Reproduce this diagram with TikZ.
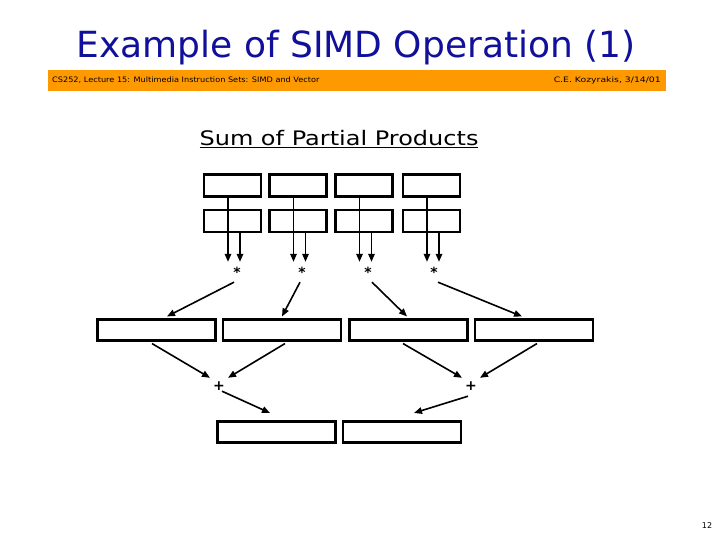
\documentclass[tikz,border=0pt]{standalone}
\usepackage{fontspec}
\setmainfont{DejaVu Sans}
\usetikzlibrary{arrows.meta,calc}
\definecolor{navy}{HTML}{10109A}
\definecolor{barorange}{HTML}{FF9900}
\begin{document}
\begin{tikzpicture}[x=1pt,y=-1pt,
  box/.style={draw=black,line width=2.6pt,rectangle,inner sep=0pt},
  sbox/.style={box,minimum width=57pt,minimum height=22pt},
  wbox/.style={box,minimum width=118pt,minimum height=21.5pt},
  op/.style={inner sep=0pt,font=\bfseries\fontsize{14}{14}\selectfont},
  arr/.style={line width=1.6pt,-{Triangle[length=8pt,width=6.5pt]}},
  ln/.style={line width=1.6pt}]
\useasboundingbox (0,0) rectangle (720,540);
% title and bar
\node[text=navy,font=\fontsize{36}{38}\selectfont] (title) at (356,48) {\scalebox{1.0}[1.0]{Example of SIMD Operation (1)}};
\node[fill=barorange,minimum width=618pt,minimum height=21pt,inner sep=0pt,anchor=north west] (bar) at (48,70) {};
\node[anchor=west,font=\fontsize{7.5}{7.5}\selectfont,inner sep=0pt] (lt) at (52,80.5) {\scalebox{1.09}[1]{CS252, Lecture 15: Multimedia Instruction Sets: SIMD and Vector}};
\node[anchor=east,font=\fontsize{7.5}{7.5}\selectfont,inner sep=0pt] (rt) at (661,80.5) {\scalebox{1.24}[1]{C.E. Kozyrakis, 3/14/01}};
\node[font=\fontsize{20}{21}\selectfont,inner sep=0pt] (sub) at (339,139) {\scalebox{1.2}[1.0]{\underline{Sum of Partial Products}}};
\node[font=\fontsize{8}{8}\selectfont,inner sep=0pt] (pg) at (707,526) {12};
% top rows
\foreach \i/\x in {1/232.5,2/298,3/364,4/431.5}{
  \node[sbox] (t\i) at (\x,185.5) {};
  \node[sbox] (s\i) at (\x,221) {};
}
\node[op,minimum size=20pt] (st1) at (237,272) {*};
\node[op,minimum size=20pt] (st2) at (302,272) {*};
\node[op,minimum size=20pt] (st3) at (368,272) {*};
\node[op,minimum size=20pt] (st4) at (434,272) {*};
\foreach \i in {1,2,3,4}{
  \draw[arr] let \p1=($(t\i.south)+(-4.5,0)$), \p2=(st\i.north) in (\p1) -- (\x1,\y2);
  \draw[arr] let \p1=($(s\i.south)+(7.5,0)$), \p2=(st\i.north) in (\p1) -- (\x1,\y2);
}
% middle row
\node[wbox] (m1) at (156.5,330) {};
\node[wbox] (m2) at (282,330) {};
\node[wbox] (m3) at (408.5,330) {};
\node[wbox] (m4) at (534,330) {};
\draw[arr] ($(st1.south)+(-3,0)$) -- ($(m1.north)+(10.5,-1.5)$);
\draw[arr] ($(st2.south)+(-2,0)$) -- ($(m2.north)+(0,-1.5)$);
\draw[arr] ($(st3.south)+(4,0)$) -- ($(m3.north)+(-1.5,-1.5)$);
\draw[arr] ($(st4.south)+(4,0)$) -- ($(m4.north)+(-12,-1.5)$);
% plus
\node[op,minimum size=16pt] (p1) at (219,386) {+};
\node[op,minimum size=16pt] (p2) at (471,386) {+};
\draw[arr] ($(m1.south)+(-4.5,1.5)$) -- ($(p1.north)+(-9,0)$);
\draw[arr] ($(m2.south)+(3,1.5)$) -- ($(p1.north)+(9,0)$);
\draw[arr] ($(m3.south)+(-5.5,1.5)$) -- ($(p2.north)+(-9,0)$);
\draw[arr] ($(m4.south)+(3,1.5)$) -- ($(p2.north)+(9,0)$);
% bottom
\node[wbox] (b1) at (276.5,432) {};
\node[wbox] (b2) at (402,432) {};
\draw[arr] ($(p1.south)+(3,-3)$) -- ($(b1.north)+(-6.5,-7)$);
\draw[arr] ($(p2.south)+(-3,2)$) -- ($(b2.north)+(12,-7)$);
\end{tikzpicture}
\end{document}
